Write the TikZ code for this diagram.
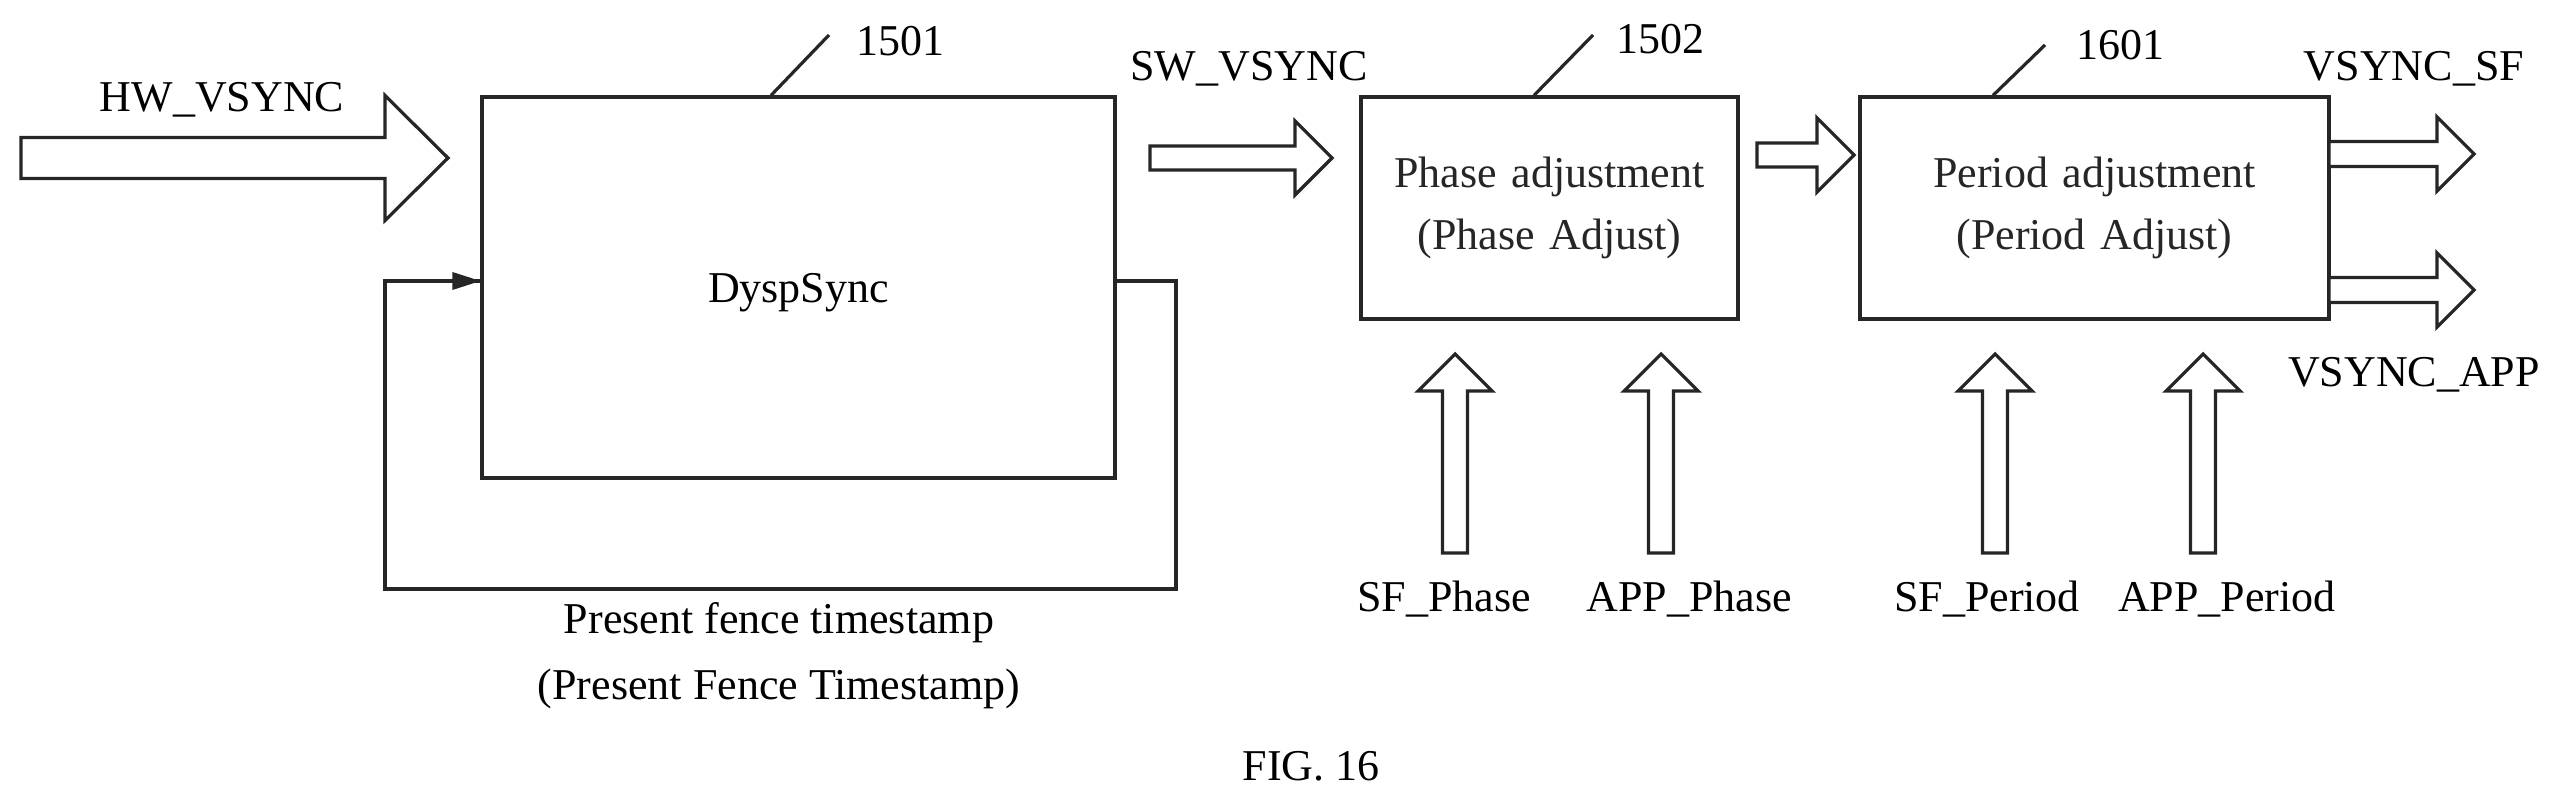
\documentclass[tikz,border=0pt]{standalone}
\usepackage{fontspec}
\setmainfont{Liberation Serif}
\begin{document}
\begin{tikzpicture}[x=0.5pt,y=-0.5pt,
  ln/.style={line width=1.6pt,black!85},
  box/.style={ln,draw,fill=white},
  txt/.style={font=\fontsize{22}{27}\selectfont,inner sep=0pt},
  ]
\useasboundingbox (0,0) rectangle (2570,806);
\def\harrow#1#2#3#4#5#6{\draw[ln,fill=white] (#1,#4-#5) -- (#2,#4-#5) -- (#2,#4-#6) -- (#3,#4) -- (#2,#4+#6) -- (#2,#4+#5) -- (#1,#4+#5) -- cycle;}
\def\varrow#1#2#3#4#5#6{\draw[ln,fill=white] (#4-#5,#1) -- (#4-#5,#2) -- (#4-#6,#2) -- (#4,#3) -- (#4+#6,#2) -- (#4+#5,#2) -- (#4+#5,#1) -- cycle;}
% boxes
\node[box,minimum width=316.5pt,minimum height=190.5pt,inner sep=0pt] (dsp) at (798.5,287.5) {};
\node[txt] at (798.5,293) {DyspSync};
\node[box,minimum width=188.5pt,minimum height=111pt,inner sep=0pt,align=center,txt,text width=180pt] (pha) at (1549.5,208) {Phase adjustment\\[4pt](Phase Adjust)};
\node[box,minimum width=234.5pt,minimum height=111pt,inner sep=0pt,align=center,txt,text width=220pt] (per) at (2094.5,208) {Period adjustment\\[4pt](Period Adjust)};
% feedback loop
\coordinate (fbR) at (1176,281);
\coordinate (fbL) at (385,281);
\draw[ln] (dsp.east |- fbR) -- (fbR) -- (1176,589) -- (385,589) -- (fbL)
  -- (dsp.west |- fbL) ;
\fill[black!85] (dsp.west |- fbL) -- ++(-28,-9) -- ++(0,18) -- cycle;
\node[txt,align=center] at (779,656) {Present fence timestamp\\[6pt](Present Fence Timestamp)};
% block arrows
\harrow{21}{385}{448}{158}{20.5}{62.5}
\harrow{1150}{1295}{1332}{158}{12}{37}
\harrow{1757}{1817}{1854}{155}{12}{37}
\harrow{2329}{2437}{2474}{154}{12.5}{37}
\harrow{2329}{2437}{2474}{290}{12.5}{37}
\varrow{553}{391}{354}{1455}{12.5}{37}
\varrow{553}{391}{354}{1661}{12.5}{37}
\varrow{553}{391}{354}{1995}{12.5}{37}
\varrow{553}{391}{354}{2203}{12.5}{37}
% labels
\node[txt] at (222,100) {HW\_VSYNC};
\node[txt] at (1249,69) {SW\_VSYNC};
\node[txt] at (2414,69) {VSYNC\_SF};
\node[txt] at (2414,375) {VSYNC\_APP};
\node[txt] at (1444,599) {SF\_Phase};
\node[txt] at (1689,599) {APP\_Phase};
\node[txt] at (1987,599) {SF\_Period};
\node[txt] at (2227,599) {APP\_Period};
\node[txt] at (1311,766) {FIG. 16};
% leaders
\coordinate (l1) at (829,35); \draw[ln] (dsp.north -| 771,0) -- (l1); \node[txt] (n1) at (900,41) {1501};
\coordinate (l2) at (1593,35); \draw[ln] (pha.north -| 1534,0) -- (l2); \node[txt] (n2) at (1660,39) {1502};
\coordinate (l3) at (2045,45); \draw[ln] (per.north -| 1993,0) -- (l3); \node[txt] (n3) at (2120,45) {1601};
\end{tikzpicture}
\end{document}
